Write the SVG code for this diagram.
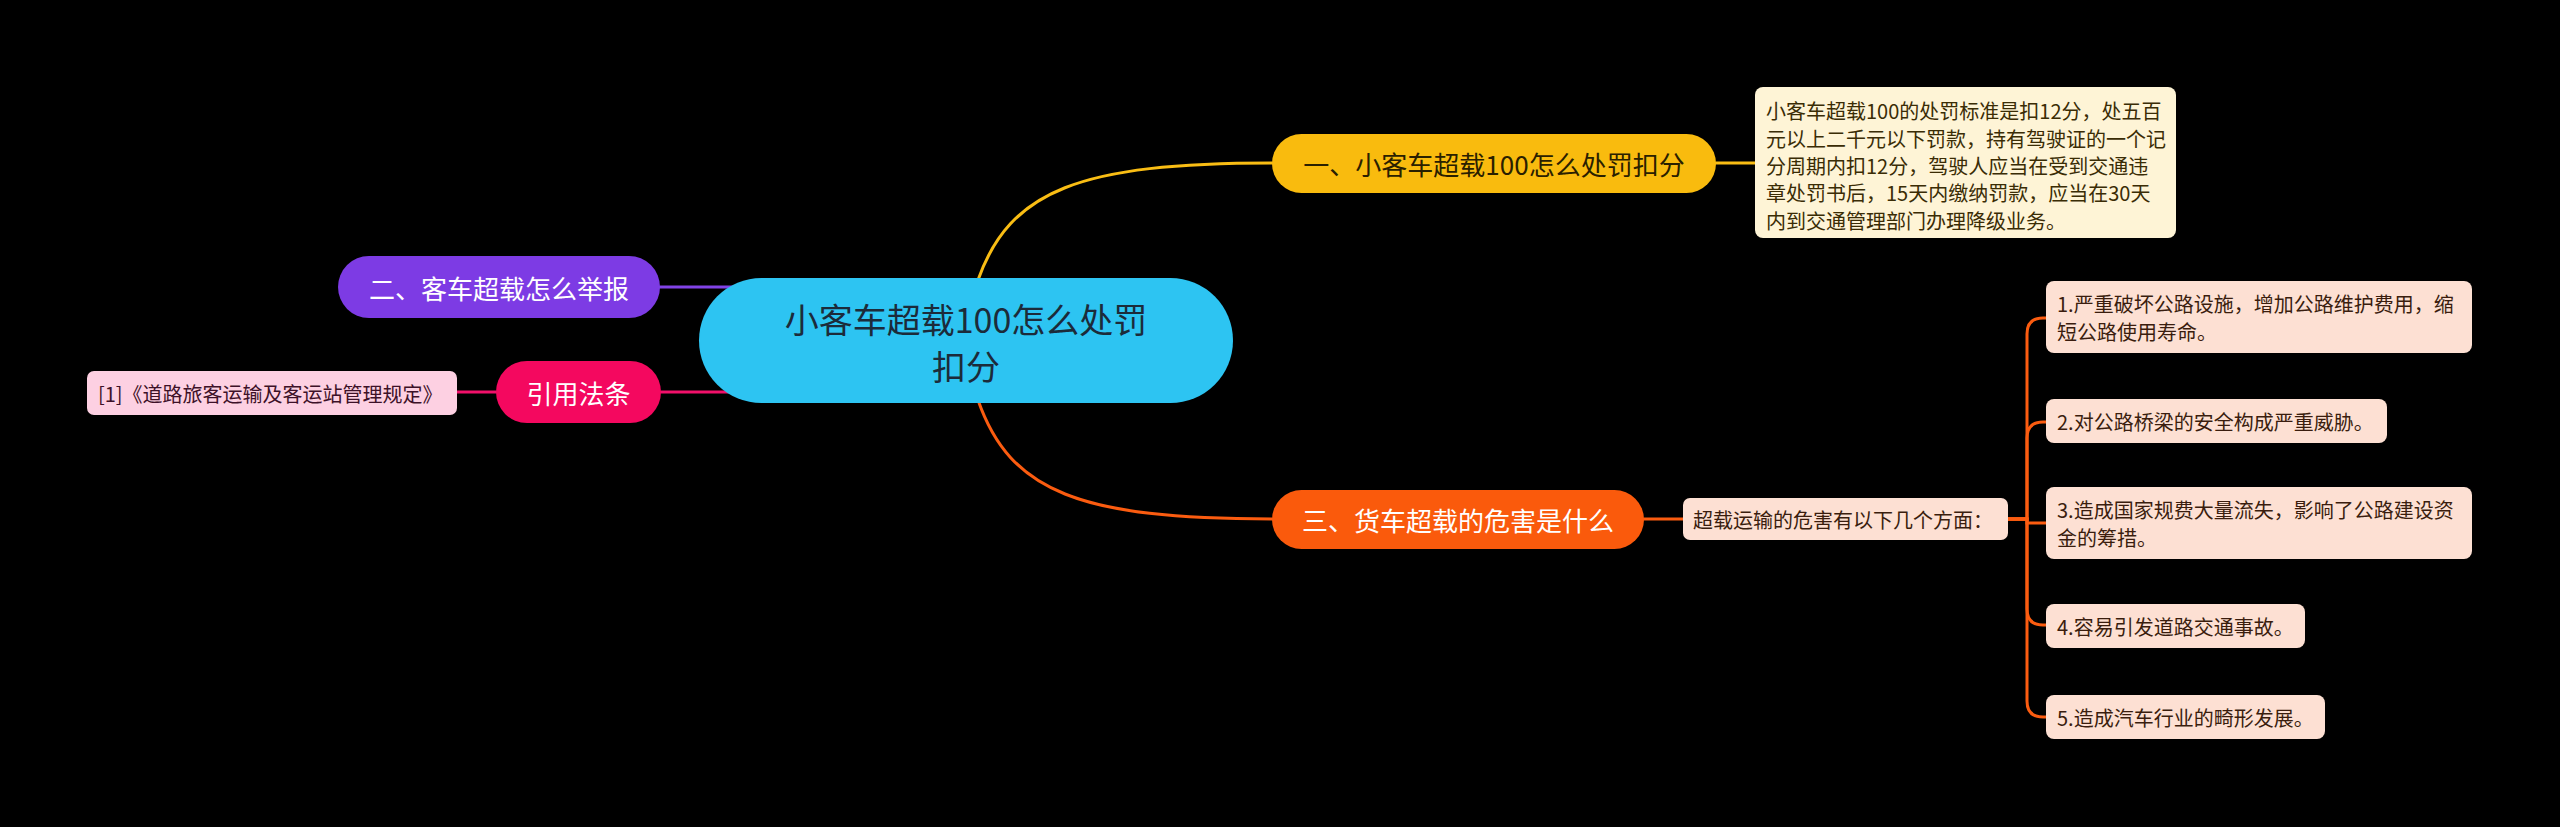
<svg xmlns="http://www.w3.org/2000/svg" width="2560" height="827" viewBox="0 0 2560 827">
<style>
text { font-family: "Noto Sans CJK SC", "Noto Sans", sans-serif; dominant-baseline: central; }
.c { fill: none; stroke-width: 3; stroke-linecap: round; }
.t1 { font-size: 26px; text-anchor: middle; }
.leaf { font-size: 20px; }
</style>
<rect width="2560" height="827" fill="#000000"/>
<g id="connectors">
  <path class="c" stroke="#f9bd14" d="M 978 280 C 1010 190, 1080 163, 1272 163"/>
  <path class="c" stroke="#fb5c10" d="M 978 400 C 1010 492, 1080 519, 1272 519"/>
  <path class="c" stroke="#8143e6" d="M 660 287 L 760 287"/>
  <path class="c" stroke="#f2106a" d="M 661 392 L 760 392"/>
  <path class="c" stroke="#f2106a" d="M 457 392 L 496 392"/>
  <path class="c" stroke="#f9bd14" d="M 1716 163 L 1755 163"/>
  <path class="c" stroke="#fb5c10" d="M 1644 519 L 1683 519"/>
  <g stroke="#fb5c10" class="c">
    <path d="M 2008 519 H 2027 V 334 Q 2027 318 2043 318 H 2046"/>
    <path d="M 2008 519 H 2027 V 438 Q 2027 422 2043 422 H 2046"/>
    <path d="M 2008 519 H 2027 V 523 H 2046"/>
    <path d="M 2008 519 H 2027 V 609 Q 2027 625 2043 625 H 2046"/>
    <path d="M 2008 519 H 2027 V 701 Q 2027 717 2043 717 H 2046"/>
  </g>
</g>
<g id="root">
  <rect x="699" y="278" width="534" height="125" rx="62.5" fill="#2dc4f2"/>
  <text x="966" y="318" font-size="34" text-anchor="middle" fill="#1c2b3a">小客车超载100怎么处罚</text>
  <text x="966" y="365" font-size="34" text-anchor="middle" fill="#1c2b3a">扣分</text>
</g>
<g id="branch1">
  <rect x="1272" y="134" width="444" height="59" rx="29.5" fill="#f9bb0e"/>
  <text class="t1" x="1494" y="163" fill="#2a2000">一、小客车超载100怎么处罚扣分</text>
</g>
<g id="leaf1">
  <rect x="1755" y="87" width="421" height="151" rx="8" fill="#fef4d6"/>
  <g class="leaf" fill="#3a2c05">
    <text x="1766" y="110">小客车超载100的处罚标准是扣12分，处五百</text>
    <text x="1766" y="138">元以上二千元以下罚款，持有驾驶证的一个记</text>
    <text x="1766" y="165">分周期内扣12分，驾驶人应当在受到交通违</text>
    <text x="1766" y="192">章处罚书后，15天内缴纳罚款，应当在30天</text>
    <text x="1766" y="220">内到交通管理部门办理降级业务。</text>
  </g>
</g>
<g id="branch2">
  <rect x="338" y="256" width="322" height="62" rx="31" fill="#7d3be4"/>
  <text class="t1" x="499" y="287" fill="#ffffff">二、客车超载怎么举报</text>
</g>
<g id="branch4">
  <rect x="496" y="361" width="165" height="62" rx="31" fill="#f4085f"/>
  <text class="t1" x="578.5" y="392" fill="#ffffff">引用法条</text>
</g>
<g id="leaf4">
  <rect x="87" y="371" width="370" height="44" rx="7" fill="#fdd0e2"/>
  <text class="leaf" x="98" y="393" fill="#3d1128">[1]《道路旅客运输及客运站管理规定》</text>
</g>
<g id="branch3">
  <rect x="1272" y="490" width="372" height="59" rx="29.5" fill="#fa5a0c"/>
  <text class="t1" x="1458" y="519" fill="#ffffff">三、货车超载的危害是什么</text>
</g>
<g id="sub3">
  <rect x="1683" y="498" width="325" height="42" rx="7" fill="#fde0d3"/>
  <text class="leaf" x="1693" y="519" fill="#3a1d0e">超载运输的危害有以下几个方面：</text>
</g>
<g id="leaf3-1">
  <rect x="2046" y="281" width="426" height="72" rx="8" fill="#fde0d3"/>
  <text class="leaf" x="2057" y="303" fill="#3a1d0e">1.严重破坏公路设施，增加公路维护费用，缩</text>
  <text class="leaf" x="2057" y="331" fill="#3a1d0e">短公路使用寿命。</text>
</g>
<g id="leaf3-2">
  <rect x="2046" y="399" width="341" height="44" rx="8" fill="#fde0d3"/>
  <text class="leaf" x="2057" y="421" fill="#3a1d0e">2.对公路桥梁的安全构成严重威胁。</text>
</g>
<g id="leaf3-3">
  <rect x="2046" y="487" width="426" height="72" rx="8" fill="#fde0d3"/>
  <text class="leaf" x="2057" y="509" fill="#3a1d0e">3.造成国家规费大量流失，影响了公路建设资</text>
  <text class="leaf" x="2057" y="537" fill="#3a1d0e">金的筹措。</text>
</g>
<g id="leaf3-4">
  <rect x="2046" y="604" width="259" height="44" rx="8" fill="#fde0d3"/>
  <text class="leaf" x="2057" y="626" fill="#3a1d0e">4.容易引发道路交通事故。</text>
</g>
<g id="leaf3-5">
  <rect x="2046" y="695" width="279" height="44" rx="8" fill="#fde0d3"/>
  <text class="leaf" x="2057" y="717" fill="#3a1d0e">5.造成汽车行业的畸形发展。</text>
</g>
</svg>
